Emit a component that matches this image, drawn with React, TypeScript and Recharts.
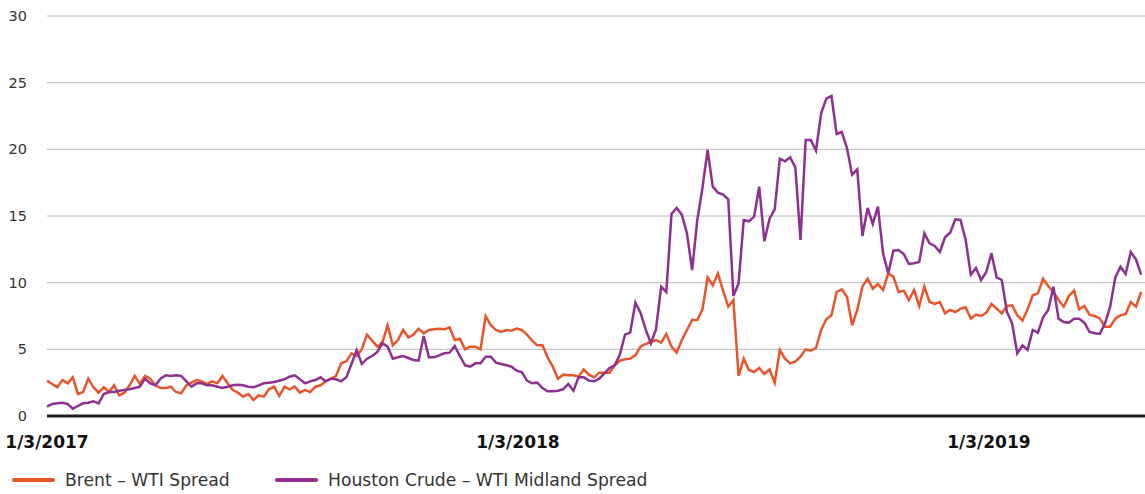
import { CartesianGrid, Line, LineChart, XAxis, YAxis } from "recharts"

// spreads in $/bbl, sampled every 4 calendar days from 1/3/2017
const startDate = Date.UTC(2017, 0, 3)
const stepDays = 4
const lastDay = 851

const brentWti = [
  2.65, 2.4, 2.15, 2.7, 2.45, 2.9, 1.65, 1.8, 2.8, 2.15, 1.75, 2.15, 1.8, 2.3, 1.55, 1.75, 2.3, 3.0, 2.4, 3.0,
  2.8, 2.3, 2.1, 2.1, 2.2, 1.8, 1.7, 2.3, 2.5, 2.7, 2.6, 2.4, 2.6, 2.45, 3.0, 2.45, 1.95, 1.75, 1.45, 1.65,
  1.2, 1.55, 1.45, 2.0, 2.2, 1.5, 2.2, 2.0, 2.2, 1.75, 1.95, 1.8, 2.2, 2.3, 2.6, 2.8, 3.0, 3.95, 4.1, 4.7,
  4.5, 5.0, 6.1, 5.65, 5.2, 5.55, 6.8, 5.3, 5.7, 6.45, 5.9, 6.1, 6.55, 6.2, 6.45, 6.5, 6.55, 6.5, 6.65, 5.7,
  5.8, 5.0, 5.2, 5.2, 5.0, 7.5, 6.8, 6.45, 6.3, 6.45, 6.4, 6.55, 6.45, 6.1, 5.65, 5.3, 5.3, 4.4, 3.7, 2.8,
  3.1, 3.05, 3.05, 2.95, 3.5, 3.1, 2.9, 3.25, 3.25, 3.25, 3.8, 4.15, 4.25, 4.3, 4.55, 5.2, 5.4, 5.55, 5.7, 5.5,
  6.15, 5.2, 4.75, 5.7, 6.45, 7.2, 7.2, 8.0, 10.4, 9.8, 10.7, 9.4, 8.2, 8.7, 3.0, 4.3, 3.45, 3.3, 3.6, 3.15,
  3.5, 2.5, 4.95, 4.3, 3.95, 4.1, 4.45, 5.0, 4.9, 5.1, 6.45, 7.25, 7.55, 9.3, 9.5, 8.95, 6.8, 7.95, 9.7, 10.3,
  9.55, 9.9, 9.45, 10.7, 10.45, 9.3, 9.4, 8.7, 9.45, 8.25, 9.7, 8.55, 8.4, 8.55, 7.7, 7.95, 7.8, 8.05, 8.15, 7.3,
  7.6, 7.5, 7.75, 8.4, 8.05, 7.7, 8.25, 8.3, 7.55, 7.15, 8.0, 9.05, 9.2, 10.3, 9.75, 9.3, 8.7, 8.2, 9.0, 9.4,
  8.0, 8.25, 7.6, 7.5, 7.3, 6.7, 6.7, 7.3, 7.55, 7.65, 8.55, 8.2, 9.3,
]

const houstonMidland = [
  0.7, 0.9, 0.95, 1.0, 0.9, 0.55, 0.75, 0.95, 1.0, 1.1, 0.95, 1.65, 1.8, 1.8, 1.9, 1.95, 2.0, 2.1, 2.2, 2.8,
  2.45, 2.3, 2.8, 3.05, 3.0, 3.05, 3.0, 2.6, 2.2, 2.45, 2.45, 2.3, 2.3, 2.2, 2.1, 2.2, 2.3, 2.35, 2.3, 2.2,
  2.15, 2.3, 2.45, 2.5, 2.55, 2.65, 2.75, 2.95, 3.05, 2.75, 2.45, 2.6, 2.7, 2.9, 2.6, 2.8, 2.75, 2.6, 2.9, 3.9,
  4.95, 3.9, 4.3, 4.5, 4.8, 5.45, 5.2, 4.3, 4.4, 4.5, 4.35, 4.2, 4.15, 6.0, 4.4, 4.4, 4.55, 4.7, 4.75, 5.25,
  4.5, 3.8, 3.7, 3.95, 3.95, 4.45, 4.45, 4.0, 3.9, 3.8, 3.7, 3.4, 3.3, 2.65, 2.45, 2.5, 2.1, 1.85, 1.85, 1.9,
  2.0, 2.4, 1.9, 2.9, 2.9, 2.65, 2.6, 2.8, 3.2, 3.6, 3.8, 4.6, 6.1, 6.25, 8.5, 7.75, 6.5, 5.45, 6.5, 9.7,
  9.3, 15.15, 15.6, 15.1, 13.7, 10.95, 14.7, 17.1, 19.95, 17.2, 16.75, 16.6, 16.25, 9.0, 9.95, 14.7, 14.6, 14.95, 17.2, 13.1,
  14.8, 15.5, 19.3, 19.1, 19.4, 18.65, 13.2, 20.7, 20.7, 19.9, 22.7, 23.8, 24.0, 21.15, 21.3, 20.1, 18.1, 18.5, 13.5, 15.6,
  14.4, 15.7, 12.2, 10.7, 12.4, 12.45, 12.15, 11.4, 11.45, 11.55, 13.7, 12.95, 12.75, 12.3, 13.4, 13.75, 14.75, 14.7, 13.2, 10.6,
  11.1, 10.2, 10.8, 12.2, 10.4, 10.2, 7.8, 6.95, 4.7, 5.3, 4.95, 6.45, 6.25, 7.4, 7.95, 9.7, 7.3, 7.05, 7.0, 7.3,
  7.3, 7.0, 6.3, 6.2, 6.15, 6.95, 8.2, 10.4, 11.2, 10.65, 12.3, 11.75, 10.6,
]

const tickDates = [Date.UTC(2017, 0, 3), Date.UTC(2018, 0, 3), Date.UTC(2019, 0, 3)]
const yTicks = [0, 5, 10, 15, 20, 25, 30]

const series = [
  { key: "brent", name: "Brent – WTI Spread", color: "#e8552a", legendX: 12 },
  { key: "houston", name: "Houston Crude – WTI Midland Spread", color: "#8e3091", legendX: 275 },
]

const DAY = 86400000

const data = brentWti.map((v, i) => ({
  t: startDate + i * stepDays * DAY,
  brent: v,
  houston: houstonMidland[i],
}))

function fmtDate(t: number) {
  const d = new Date(t)
  return `${d.getUTCMonth() + 1}/${d.getUTCDate()}/${d.getUTCFullYear()}`
}

export default function App() {
  return (
    <div style={{ position: "absolute", left: 0, top: 0, width: 1145, height: 494, background: "#fff" }}>
      <LineChart width={1145} height={460} data={data} margin={{ top: 16, right: 0, left: 0, bottom: 0 }}>
        <CartesianGrid vertical={false} stroke="#b8b8b8" strokeWidth={1} />
        <XAxis
          dataKey="t"
          type="number"
          domain={[startDate, startDate + lastDay * DAY]}
          ticks={tickDates}
          tickFormatter={fmtDate}
          interval={0}
          height={44}
          tickLine={false}
          axisLine={{ stroke: "#231f20", strokeWidth: 3 }}
          tickMargin={14}
          tick={{ fill: "#111", fontSize: 17, fontWeight: 700, fontFamily: "DejaVu Sans" }}
        />
        <YAxis
          domain={[0, 30]}
          ticks={yTicks}
          width={47}
          axisLine={false}
          tickLine={false}
          tickMargin={14}
          tick={{ fill: "#333", fontSize: 14.5, fontFamily: "DejaVu Sans" }}
        />
        {series.map((s) => (
          <Line
            key={s.key}
            dataKey={s.key}
            name={s.name}
            type="linear"
            stroke={s.color}
            strokeWidth={2.5}
            dot={false}
            isAnimationActive={false}
          />
        ))}
      </LineChart>
      {/* legend */}
      {series.map((s) => (
        <div
          key={s.key}
          style={{
            position: "absolute",
            top: 470,
            left: s.legendX,
            display: "flex",
            alignItems: "center",
            fontFamily: "DejaVu Sans",
            fontSize: 17.2,
            color: "#333",
            whiteSpace: "nowrap",
          }}
        >
          <span style={{ display: "inline-block", width: 43, height: 4, borderRadius: 2, background: s.color, marginRight: 10 }} />
          <span>{s.name}</span>
        </div>
      ))}
    </div>
  )
}
